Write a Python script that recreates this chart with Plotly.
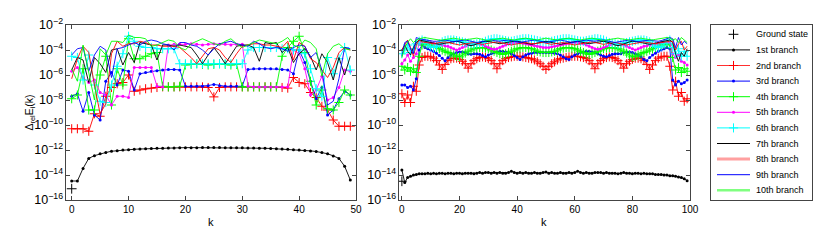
import plotly.graph_objects as go

# ---------------- data (log10 of relative error) ----------------
k_left = list(range(0, 50))
k_right = list(range(0, 100))

ground_k = [0]
ground_left_log = [-15.1]
ground_right_log = [-14.5]

branch_names = ["1st branch", "2nd branch", "3rd branch", "4th branch", "5th branch",
                "6th branch", "7th branch", "8th branch", "9th branch", "10th branch"]

left_b1 = [-14.48, -14.48, -13.47, -12.67, -12.45, -12.3, -12.2, -12.1, -12.05, -12.0,
           -11.97, -11.94, -11.92, -11.9, -11.88, -11.86, -11.85, -11.84, -11.83, -11.82,
           -11.81, -11.81, -11.81, -11.8, -11.8, -11.8, -11.8, -11.81, -11.81, -11.81,
           -11.82, -11.83, -11.84, -11.85, -11.86, -11.88, -11.9, -11.92, -11.94, -11.97,
           -12.0, -12.03, -12.07, -12.12, -12.2, -12.3, -12.47, -12.67, -13.3, -14.4]
left_b2 = [-10.3, -10.3, -10.3, -10.5, -9.1, -9.3, -7.7, -7.0, -6.7, -6.6,
           -6.0, -7.3, -7.2, -7.1, -7.05, -7.0, -6.95, -6.95, -6.95, -6.95,
           -6.95, -6.95, -6.95, -6.95, -7.0, -7.75, -7.0, -6.95, -6.95, -6.95,
           -6.95, -6.95, -6.95, -6.95, -6.95, -6.95, -6.95, -7.0, -7.05, -6.2,
           -6.6, -6.7, -7.4, -7.8, -8.5, -8.8, -9.6, -10.1, -10.1, -10.1]
left_b3 = [-7.7, -7.5, -8.9, -7.4, -9.2, -9.6, -6.5, -5.8, -6.8, -5.6,
           -5.7, -7.2, -5.9, -5.8, -5.7, -5.65, -5.6, -5.55, -5.55, -5.6,
           -6.9, -6.9, -6.9, -6.9, -6.85, -6.75, -6.85, -6.9, -6.9, -6.9,
           -6.9, -5.55, -5.5, -5.5, -5.5, -5.5, -5.5, -5.55, -5.6, -5.9,
           -4.0, -5.0, -6.5, -7.9, -7.0, -9.2, -8.8, -7.9, -7.3, -7.6]
left_b4 = [-7.9, -7.6, -5.5, -8.8, -8.8, -6.0, -4.5, -8.4, -5.5, -6.8,
           -3.1, -4.7, -4.7, -4.5, -4.3, -4.2, -6.9, -6.95, -6.95, -6.9,
           -5.2, -5.15, -5.1, -5.15, -5.2, -5.15, -5.1, -5.15, -5.2, -5.15,
           -6.95, -6.95, -6.95, -6.95, -6.95, -6.95, -6.95, -4.5, -3.8, -3.3,
           -2.9, -4.2, -6.5, -8.4, -7.2, -8.7, -8.8, -8.2, -7.2, -7.6]
left_b5 = [-5.7, -5.4, -6.2, -6.6, -6.4, -7.4, -7.6, -8.4, -7.7, -7.7,
           -7.8, -5.4, -5.4, -5.4, -5.4, -6.9, -6.95, -3.6, -3.55, -3.55,
           -3.55, -3.5, -3.55, -3.6, -3.55, -3.5, -3.55, -3.55, -3.6, -3.55,
           -3.55, -6.9, -6.95, -6.95, -6.95, -6.95, -6.95, -6.95, -6.95, -4.0,
           -4.3, -5.5, -7.6, -7.2, -6.1, -8.0, -7.8, -7.0, -5.6, -5.7]
left_b6 = [-4.5, -4.6, -6.4, -4.4, -6.8, -8.1, -8.2, -6.8, -5.3, -4.3,
           -2.9, -3.3, -3.7, -3.8, -3.8, -3.9, -3.9, -3.9, -3.9, -5.1,
           -5.1, -5.1, -5.1, -5.1, -5.1, -5.1, -5.1, -5.1, -5.1, -5.1,
           -5.1, -4.0, -3.8, -3.8, -3.8, -3.8, -3.8, -3.9, -3.9, -4.0,
           -4.0, -4.3, -5.5, -7.1, -7.7, -4.6, -5.9, -4.7, -3.8, -5.6]
left_b7 = [-5.6, -4.6, -4.8, -6.6, -4.6, -5.1, -5.8, -4.0, -3.9, -5.2,
           -4.2, -5.0, -3.4, -3.5, -3.6, -4.8, -3.6, -3.6, -3.7, -3.6,
           -3.7, -3.8, -4.4, -5.1, -4.4, -3.8, -4.4, -5.1, -4.4, -3.7,
           -3.6, -3.6, -3.8, -4.9, -3.4, -3.5, -3.4, -4.2, -3.8, -5.0,
           -4.3, -3.9, -4.5, -5.6, -4.3, -5.0, -6.4, -4.6, -6.0, -4.5]
left_b8 = [-6.3, -4.7, -3.7, -4.2, -6.8, -9.1, -8.3, -4.3, -3.3, -3.7,
           -3.5, -3.5, -3.3, -3.4, -3.6, -3.6, -3.7, -3.7, -3.7, -3.8,
           -4.2, -4.6, -5.1, -4.5, -3.9, -3.8, -4.0, -4.6, -5.0, -4.3,
           -3.7, -3.6, -3.5, -3.5, -3.6, -3.6, -3.7, -3.8, -3.3, -4.8,
           -3.4, -3.7, -4.7, -5.0, -5.6, -6.2, -5.4, -4.2, -3.8, -4.0]
left_b9 = [-4.4, -3.9, -3.8, -5.7, -4.4, -3.7, -4.0, -6.2, -3.9, -3.8,
           -3.6, -3.4, -3.6, -3.3, -3.2, -3.3, -3.5, -3.6, -4.0, -3.4,
           -3.4, -3.6, -3.7, -4.0, -4.4, -3.9, -3.5, -3.4, -3.3, -3.5,
           -3.6, -3.7, -3.3, -3.5, -3.8, -3.9, -3.8, -3.9, -4.1, -3.8,
           -3.6, -3.7, -4.6, -4.2, -5.6, -8.4, -8.1, -6.3, -3.8, -3.9]
left_b10 = [-5.5, -6.5, -3.6, -5.9, -8.0, -3.9, -4.4, -3.3, -3.3, -3.4,
            -2.8, -3.0, -3.0, -3.1, -3.7, -3.6, -3.4, -3.2, -3.3, -3.8,
            -4.0, -3.5, -3.3, -3.1, -3.3, -3.5, -3.6, -3.3, -3.1, -3.5,
            -3.8, -3.6, -3.4, -3.2, -3.3, -3.4, -3.5, -3.3, -3.0, -3.6,
            -3.8, -3.2, -3.4, -3.9, -6.1, -4.3, -3.7, -3.5, -3.9, -4.0]

right_b1 = [-13.6, -14.6, -14.2, -14.1, -14.0, -13.95, -13.9, -13.9, -13.9, -13.85,
            -13.9, -13.85, -13.9, -13.85, -13.85, -13.9, -13.85, -13.85, -13.9, -13.85,
            -13.85, -13.9, -13.85, -13.85, -13.85, -13.9, -13.85, -13.8, -13.85, -13.8,
            -13.8, -13.85, -13.8, -13.85, -13.8, -13.85, -13.85, -13.8, -13.7, -13.8,
            -13.85, -13.8, -13.85, -13.8, -13.85, -13.85, -13.8, -13.85, -13.85, -13.8,
            -13.75, -13.85, -13.8, -13.85, -13.85, -13.8, -13.85, -13.85, -13.8, -13.85,
            -13.8, -13.7, -13.8, -13.85, -13.8, -13.85, -13.85, -13.8, -13.8, -13.8,
            -13.85, -13.8, -13.85, -13.85, -13.85, -13.9, -13.85, -13.8, -13.85, -13.85,
            -13.9, -13.85, -13.85, -13.9, -13.85, -13.9, -13.9, -13.9, -13.95, -13.95,
            -13.95, -14.0, -14.0, -14.05, -14.05, -14.1, -14.15, -14.2, -14.3, -14.45]
right_b2 = [-7.5, -8.2, -7.6, -8.2, -6.9, -7.3, -5.2, -4.6, -4.5, -4.5,
            -4.55, -4.65, -4.85, -5.2, -5.55, -5.15, -4.85, -4.7, -4.65, -4.65,
            -4.75, -4.9, -5.1, -5.45, -5.1, -4.85, -4.7, -4.6, -4.55, -4.6,
            -4.7, -4.85, -5.1, -5.5, -5.1, -4.85, -4.7, -4.6, -4.55, -4.5,
            -4.5, -4.5, -4.55, -4.6, -4.65, -4.7, -4.8, -4.95, -5.1, -5.3,
            -5.55, -5.3, -5.1, -4.95, -4.8, -4.7, -4.65, -4.6, -4.55, -4.5,
            -4.5, -4.5, -4.55, -4.6, -4.7, -4.85, -5.1, -5.5, -5.1, -4.85,
            -4.7, -4.6, -4.55, -4.6, -4.7, -4.85, -5.1, -5.45, -5.1, -4.9,
            -4.75, -4.65, -4.65, -4.7, -4.85, -5.15, -5.55, -5.2, -4.85, -4.65,
            -4.55, -4.5, -4.5, -5.3, -7.2, -6.5, -7.7, -7.4, -8.1, -7.9]
right_b3 = [-6.8, -6.8, -7.0, -6.9, -7.2, -6.3, -4.0, -3.6, -3.8, -3.9,
            -4.0, -4.1, -4.25, -4.45, -4.65, -4.85, -4.6, -4.4, -4.3, -4.2,
            -4.15, -4.15, -4.2, -4.3, -4.35, -4.3, -4.3, -4.35, -4.45, -4.55,
            -4.4, -4.3, -4.2, -4.15, -4.1, -4.1, -4.15, -4.2, -4.3, -4.45,
            -4.6, -4.75, -4.55, -4.4, -4.3, -4.25, -4.2, -4.2, -4.2, -4.2,
            -4.2, -4.2, -4.2, -4.25, -4.3, -4.4, -4.55, -4.7, -4.75, -4.55,
            -4.4, -4.3, -4.2, -4.15, -4.1, -4.1, -4.15, -4.2, -4.3, -4.4,
            -4.5, -4.55, -4.45, -4.35, -4.3, -4.3, -4.3, -4.2, -4.15, -4.15,
            -4.2, -4.3, -4.4, -4.55, -4.75, -4.85, -4.6, -4.4, -4.25, -4.1,
            -4.0, -3.9, -3.8, -3.9, -6.4, -6.8, -6.5, -6.7, -6.6, -6.4]
right_b4 = [-5.3, -5.6, -5.4, -5.7, -5.5, -5.8, -4.5, -3.6, -3.5, -3.55,
            -3.6, -3.7, -3.8, -3.9, -4.0, -4.1, -4.2, -4.3, -4.4, -4.5,
            -4.55, -4.4, -4.25, -4.1, -4.0, -3.9, -3.85, -3.8, -3.8, -3.85,
            -3.9, -4.0, -4.1, -4.2, -4.3, -4.35, -4.3, -4.2, -4.1, -4.0,
            -3.9, -3.85, -3.8, -3.8, -3.85, -3.9, -4.0, -4.1, -4.15, -4.2,
            -4.2, -4.2, -4.15, -4.1, -4.0, -3.9, -3.85, -3.8, -3.8, -3.85,
            -3.9, -4.0, -4.1, -4.2, -4.3, -4.35, -4.3, -4.2, -4.1, -4.0,
            -3.9, -3.85, -3.8, -3.8, -3.85, -3.9, -4.0, -4.1, -4.25, -4.4,
            -4.55, -4.5, -4.4, -4.3, -4.2, -4.1, -4.0, -3.9, -3.8, -3.7,
            -3.6, -3.55, -3.5, -3.6, -4.6, -5.6, -5.4, -5.8, -5.5, -5.7]
right_b5 = [-5.1, -4.8, -4.4, -4.9, -4.6, -4.3, -3.5, -3.3, -3.3, -3.35,
            -3.4, -3.45, -3.5, -3.55, -3.6, -3.65, -3.7, -3.8, -3.9, -4.0,
            -3.9, -3.8, -3.7, -3.6, -3.55, -3.5, -3.5, -3.55, -3.6, -3.7,
            -3.8, -3.9, -3.95, -3.9, -3.8, -3.7, -3.6, -3.5, -3.45, -3.4,
            -3.4, -3.4, -3.45, -3.5, -3.55, -3.6, -3.65, -3.7, -3.75, -3.8,
            -3.8, -3.8, -3.75, -3.7, -3.65, -3.6, -3.55, -3.5, -3.45, -3.4,
            -3.4, -3.4, -3.45, -3.5, -3.6, -3.7, -3.8, -3.9, -3.95, -3.9,
            -3.8, -3.7, -3.6, -3.55, -3.5, -3.5, -3.55, -3.6, -3.7, -3.8,
            -3.9, -4.0, -3.9, -3.8, -3.7, -3.65, -3.6, -3.55, -3.5, -3.45,
            -3.4, -3.35, -3.3, -3.4, -4.3, -4.6, -4.4, -4.9, -5.0, -5.2]
right_b6 = [-4.3, -4.0, -3.6, -4.2, -3.9, -3.5, -3.3, -3.2, -3.3, -3.5,
            -3.7, -3.8, -3.7, -3.5, -3.35, -3.25, -3.2, -3.2, -3.2, -3.25,
            -3.3, -3.35, -3.4, -3.45, -3.5, -3.55, -3.5, -3.45, -3.4, -3.3,
            -3.2, -3.15, -3.1, -3.1, -3.15, -3.2, -3.25, -3.3, -3.3, -3.25,
            -3.2, -3.15, -3.1, -3.1, -3.1, -3.15, -3.2, -3.25, -3.3, -3.35,
            -3.35, -3.35, -3.3, -3.25, -3.2, -3.15, -3.1, -3.1, -3.1, -3.15,
            -3.2, -3.25, -3.3, -3.3, -3.25, -3.2, -3.15, -3.1, -3.1, -3.15,
            -3.2, -3.3, -3.4, -3.45, -3.5, -3.55, -3.5, -3.45, -3.4, -3.35,
            -3.3, -3.25, -3.2, -3.2, -3.2, -3.25, -3.35, -3.5, -3.7, -3.8,
            -3.7, -3.5, -3.3, -3.2, -3.8, -4.3, -3.9, -4.5, -4.1, -4.5]
right_b7 = [-4.0, -3.6, -4.1, -4.4, -3.8, -3.4, -3.2, -3.25, -3.3, -3.35,
            -3.4, -3.45, -3.5, -3.55, -3.5, -3.45, -3.4, -3.35, -3.3, -3.3,
            -3.35, -3.4, -3.5, -3.6, -3.65, -3.6, -3.5, -3.4, -3.35, -3.3,
            -3.3, -3.35, -3.4, -3.45, -3.5, -3.45, -3.4, -3.35, -3.3, -3.3,
            -3.3, -3.35, -3.4, -3.45, -3.5, -3.55, -3.5, -3.45, -3.4, -3.35,
            -3.3, -3.35, -3.4, -3.45, -3.5, -3.55, -3.5, -3.45, -3.4, -3.35,
            -3.3, -3.3, -3.35, -3.4, -3.45, -3.5, -3.45, -3.4, -3.35, -3.3,
            -3.3, -3.35, -3.4, -3.5, -3.6, -3.65, -3.6, -3.5, -3.4, -3.35,
            -3.3, -3.3, -3.35, -3.4, -3.45, -3.5, -3.55, -3.5, -3.45, -3.4,
            -3.35, -3.3, -3.25, -3.2, -3.4, -4.3, -4.9, -4.2, -4.5, -3.9]
right_b8 = [-4.0, -3.6, -3.2, -3.8, -4.5, -3.6, -3.2, -3.35, -3.4, -3.45,
            -3.5, -3.5, -3.45, -3.4, -3.35, -3.35, -3.4, -3.45, -3.5, -3.55,
            -3.6, -3.55, -3.5, -3.45, -3.4, -3.4, -3.45, -3.5, -3.55, -3.5,
            -3.45, -3.4, -3.35, -3.35, -3.4, -3.45, -3.5, -3.55, -3.6, -3.55,
            -3.5, -3.45, -3.4, -3.4, -3.45, -3.5, -3.5, -3.45, -3.4, -3.4,
            -3.45, -3.5, -3.55, -3.5, -3.45, -3.4, -3.4, -3.45, -3.5, -3.55,
            -3.6, -3.55, -3.5, -3.45, -3.4, -3.35, -3.35, -3.4, -3.45, -3.5,
            -3.55, -3.5, -3.45, -3.4, -3.4, -3.45, -3.5, -3.55, -3.6, -3.55,
            -3.5, -3.45, -3.4, -3.35, -3.35, -3.4, -3.45, -3.5, -3.5, -3.45,
            -3.4, -3.35, -3.3, -3.3, -3.3, -4.0, -3.5, -3.3, -4.0, -3.7]
right_b9 = [-4.5, -3.4, -3.3, -3.9, -4.3, -3.0, -3.1, -3.15, -3.2, -3.2,
            -3.25, -3.3, -3.3, -3.25, -3.2, -3.2, -3.25, -3.3, -3.35, -3.3,
            -3.25, -3.2, -3.2, -3.25, -3.3, -3.35, -3.4, -3.35, -3.3, -3.25,
            -3.2, -3.2, -3.25, -3.3, -3.3, -3.25, -3.2, -3.2, -3.25, -3.3,
            -3.35, -3.4, -3.35, -3.3, -3.25, -3.2, -3.2, -3.25, -3.3, -3.35,
            -3.4, -3.35, -3.3, -3.25, -3.2, -3.2, -3.25, -3.3, -3.35, -3.4,
            -3.35, -3.3, -3.25, -3.2, -3.2, -3.25, -3.3, -3.3, -3.25, -3.2,
            -3.2, -3.25, -3.3, -3.35, -3.4, -3.35, -3.3, -3.25, -3.2, -3.2,
            -3.25, -3.3, -3.35, -3.3, -3.25, -3.2, -3.2, -3.25, -3.3, -3.3,
            -3.25, -3.2, -3.1, -3.0, -3.1, -3.8, -3.0, -3.6, -3.3, -3.5]
right_b10 = [-4.6, -3.8, -3.4, -3.1, -3.4, -3.2, -3.1, -3.05, -3.0, -3.05,
             -3.1, -3.1, -3.15, -3.2, -3.2, -3.15, -3.1, -3.05, -3.05, -3.1,
             -3.15, -3.2, -3.2, -3.15, -3.1, -3.05, -3.05, -3.1, -3.15, -3.2,
             -3.25, -3.2, -3.15, -3.1, -3.05, -3.05, -3.1, -3.15, -3.2, -3.2,
             -3.15, -3.1, -3.05, -3.05, -3.1, -3.15, -3.2, -3.2, -3.15, -3.1,
             -3.05, -3.1, -3.15, -3.2, -3.2, -3.15, -3.1, -3.05, -3.05, -3.1,
             -3.15, -3.2, -3.2, -3.15, -3.1, -3.05, -3.05, -3.1, -3.15, -3.2,
             -3.25, -3.2, -3.15, -3.1, -3.05, -3.05, -3.1, -3.15, -3.2, -3.2,
             -3.15, -3.1, -3.05, -3.05, -3.1, -3.15, -3.2, -3.2, -3.15, -3.1,
             -3.05, -3.0, -3.0, -3.05, -3.2, -3.1, -3.4, -3.0, -3.2, -3.4]

left_branches = [left_b1, left_b2, left_b3, left_b4, left_b5,
                 left_b6, left_b7, left_b8, left_b9, left_b10]
right_branches = [right_b1, right_b2, right_b3, right_b4, right_b5,
                  right_b6, right_b7, right_b8, right_b9, right_b10]

# ---------------- styles ----------------
colors = ["#000000", "#FF0000", "#0000FF", "#00FF00", "#FF00FF",
          "#00FFFF", "#000000", "#FF0000", "#0000FF", "#00FF00"]
markers = ["dot", "plus", "dot", "plus", "dot", "plus", None, None, None, None]
legend_line_colors = ["#000000", "#FF3030", "#0000FF", "#00FF00", "#FF00FF",
                      "#00FFFF", "#000000", "#FFA0A0", "#0000FF", "#80FF80"]
legend_line_widths = [1, 1, 1, 1, 1, 1, 1, 3, 1, 2.5]

W, H = 830, 250
FONT = "Liberation Sans, Arial, sans-serif"


def pw(vals):
    return [10 ** v for v in vals]


def marker_for(kind, color):
    if kind == "plus":
        return dict(symbol="cross-thin", size=6.5, line=dict(width=1, color=color))
    if kind == "dot":
        return dict(symbol="circle", size=3, color=color, line=dict(width=0))
    return None


fig = go.Figure()

for (xa, ya, ks, gk, glog, branches) in [
        ("x", "y", k_left, ground_k, ground_left_log, left_branches),
        ("x2", "y2", k_right, ground_k, ground_right_log, right_branches)]:
    fig.add_trace(go.Scatter(x=gk, y=pw(glog), mode="markers", xaxis=xa, yaxis=ya,
                             marker=dict(symbol="cross-thin", size=7,
                                         line=dict(width=1, color="#000000")),
                             showlegend=False, name="Ground state"))
    for i, vals in enumerate(branches):
        m = marker_for(markers[i], colors[i])
        kw = dict(x=ks, y=pw(vals), xaxis=xa, yaxis=ya, name=branch_names[i],
                  showlegend=False, line=dict(color=colors[i], width=0.9))
        if m is not None:
            kw["mode"] = "lines+markers"
            kw["marker"] = m
        else:
            kw["mode"] = "lines"
        fig.add_trace(go.Scatter(**kw))

# ---------------- manual legend (axis 3) ----------------
LB_X0, LB_X1, LB_Y0, LB_Y1 = 711, 812, 25, 200
legend_labels = ["Ground state"] + branch_names
row0, row_step = 9.3, 15.6
line_x = [6, 39]
mark_x = 22.5
text_x = 43
annotations = []
for j, lab in enumerate(legend_labels):
    yy = row0 + row_step * j
    if j == 0:
        fig.add_trace(go.Scatter(x=[mark_x], y=[yy], mode="markers", xaxis="x3", yaxis="y3",
                                 marker=dict(symbol="cross-thin", size=7,
                                             line=dict(width=1, color="#000000")),
                                 showlegend=False, hoverinfo="skip"))
    else:
        i = j - 1
        fig.add_trace(go.Scatter(x=line_x, y=[yy, yy], mode="lines", xaxis="x3", yaxis="y3",
                                 line=dict(color=legend_line_colors[i], width=legend_line_widths[i]),
                                 showlegend=False, hoverinfo="skip"))
        m = marker_for(markers[i], colors[i])
        if m is not None:
            fig.add_trace(go.Scatter(x=[mark_x], y=[yy], mode="markers", xaxis="x3", yaxis="y3",
                                     marker=m, showlegend=False, hoverinfo="skip"))
    annotations.append(dict(x=text_x, y=yy, xref="x3", yref="y3", text=lab, showarrow=False,
                            xanchor="left", yanchor="middle",
                            font=dict(family=FONT, size=9, color="#000000")))

# axis titles
annotations.append(dict(x=30 / W, y=1 - 112.5 / H, xref="paper", yref="paper",
                        text="Δ<sub>rel</sub>E<sub>i</sub>(k)", textangle=-90, showarrow=False,
                        xanchor="center", yanchor="middle",
                        font=dict(family=FONT, size=10.5, color="#000000")))
annotations.append(dict(x=211 / W, y=1 - 222 / H, xref="paper", yref="paper", text="k",
                        showarrow=False, xanchor="center", yanchor="middle",
                        font=dict(family=FONT, size=11, color="#000000")))
annotations.append(dict(x=544 / W, y=1 - 222 / H, xref="paper", yref="paper", text="k",
                        showarrow=False, xanchor="center", yanchor="middle",
                        font=dict(family=FONT, size=11, color="#000000")))

ydom = [1 - 200 / H, 1 - 25 / H]
axis_common = dict(showline=True, linecolor="#444444", linewidth=1, mirror="allticks",
                   ticks="inside", ticklen=4, tickcolor="#444444", showgrid=False,
                   zeroline=False, automargin=False,
                   tickfont=dict(family=FONT, size=10, color="#000000"))
yaxis_common = dict(axis_common, type="log", range=[-16, -2], dtick=2,
                    exponentformat="power", showexponent="all")
box_axis = dict(showline=True, mirror=True, linecolor="#444444", linewidth=1,
                showticklabels=False, ticks="", showgrid=False, zeroline=False,
                fixedrange=True, automargin=False)

fig.update_layout(
    template="none",
    width=W, height=H, margin=dict(l=0, r=0, t=0, b=0, pad=0, autoexpand=False),
    paper_bgcolor="white", plot_bgcolor="white", showlegend=False,
    font=dict(family=FONT, size=10, color="#000000"),
    xaxis=dict(axis_common, domain=[66 / W, 356 / W], range=[-1, 50], dtick=10, anchor="y"),
    yaxis=dict(yaxis_common, domain=ydom, anchor="x"),
    xaxis2=dict(axis_common, domain=[399 / W, 690 / W], range=[-1, 100], dtick=20, anchor="y2"),
    yaxis2=dict(yaxis_common, domain=ydom, anchor="x2"),
    xaxis3=dict(box_axis, domain=[LB_X0 / W, LB_X1 / W], range=[0, LB_X1 - LB_X0], anchor="y3"),
    yaxis3=dict(box_axis, domain=[1 - LB_Y1 / H, 1 - LB_Y0 / H], range=[LB_Y1 - LB_Y0, 0],
                anchor="x3"),
    annotations=annotations,
)

fig.write_html("out.html",
               config={"displayModeBar": False, "staticPlot": True},
               post_script="document.body.style.margin='0';document.body.style.padding='0';"
                           "document.body.style.overflow='hidden';")
